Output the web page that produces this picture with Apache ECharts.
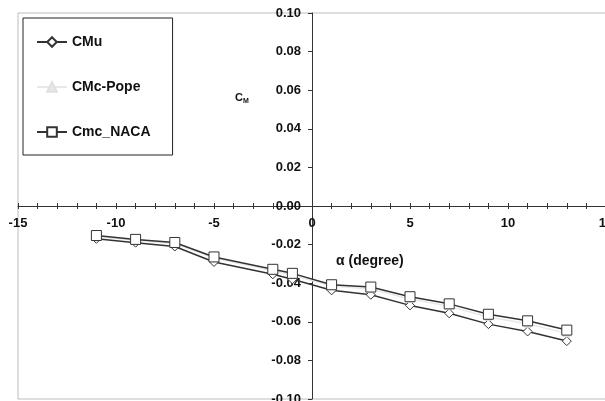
<!DOCTYPE html>
<html>
<head>
<meta charset="utf-8">
<script src="https://cdn.jsdelivr.net/npm/echarts@6/dist/echarts.min.js"></script>
<style>
  html, body { margin: 0; padding: 0; background: #fff; }
  #cm { width: 605px; height: 401px; }
</style>
</head>
<body>
<div id="cm"></div>
<script>
// angle of attack (degree)
var alpha = [-11, -9, -7, -5, -2, -1, 1, 3, 5, 7, 9, 11, 13];
var cmU    = [-0.0170, -0.0190, -0.0210, -0.0290, -0.0354, -0.0380, -0.0437, -0.0460, -0.0515, -0.0556, -0.0612, -0.0650, -0.0700];
var cmPope = [-0.0158, -0.0178, -0.0195, -0.0270, -0.0335, -0.0358, -0.0415, -0.0430, -0.0482, -0.0520, -0.0575, -0.0610, -0.0660];
var cmNaca = [-0.0153, -0.0173, -0.0189, -0.0264, -0.0328, -0.0349, -0.0408, -0.0420, -0.0470, -0.0507, -0.0561, -0.0595, -0.0643];
var names = ['CMu', 'CMc-Pope', 'Cmc_NACA'];

function pairs(ys) {
    return alpha.map(function (a, i) { return [a, ys[i]]; });
}

var chart = echarts.init(document.getElementById('cm'));
var font = 'Arial, "Liberation Sans", sans-serif';
var box = { left: 18, top: 13, width: 588, height: 386, outerBoundsMode: 'none' };
// axes cross at (0, 0): middle of the plot box
var xShift = -box.width / 2;
var yShift = -box.height / 2;

var option = {
    animation: false,
    grid: [
        Object.assign({ show: true, borderColor: '#bdbdbd', borderWidth: 1 }, box),
        // second grid on top of the first only for the inner half of the x ticks
        Object.assign({ show: false }, box)
    ],
    legend: {
        orient: 'vertical',
        left: 23, top: 18,
        padding: [17, 22, 16, 13],
        itemGap: 31,
        itemWidth: 30, itemHeight: 12,
        borderColor: '#222', borderWidth: 1,
        data: names,
        textStyle: { fontFamily: font, fontWeight: 'bold', fontSize: 14, color: '#111' }
    },
    xAxis: [
        {
            type: 'value', min: -15, max: 15, interval: 1, gridIndex: 0,
            position: 'bottom', offset: yShift,
            splitLine: { show: false },
            axisLine: { onZero: false, lineStyle: { color: '#333', width: 1 } },
            axisTick: { length: 3, lineStyle: { color: '#333' } },
            axisLabel: {
                margin: 11, fontFamily: font, fontWeight: 'bold', fontSize: 13, color: '#111',
                formatter: function (v) { return v % 5 === 0 ? String(v) : ''; }
            }
        },
        {
            type: 'value', min: -15, max: 15, interval: 1, gridIndex: 1,
            position: 'bottom', offset: yShift,
            splitLine: { show: false },
            axisLine: { onZero: false, show: false },
            axisTick: { inside: true, length: 3, lineStyle: { color: '#333' } },
            axisLabel: { show: false }
        }
    ],
    yAxis: [
        {
            type: 'value', min: -0.1, max: 0.1, interval: 0.02, gridIndex: 0,
            position: 'left', offset: xShift,
            splitLine: { show: false },
            axisLine: { onZero: false, lineStyle: { color: '#333', width: 1 } },
            axisTick: { length: 4, lineStyle: { color: '#333' } },
            axisLabel: {
                margin: 11, fontFamily: font, fontWeight: 'bold', fontSize: 13, color: '#111',
                formatter: function (v) { return v.toFixed(2); }
            }
        },
        {
            type: 'value', min: -0.1, max: 0.1, interval: 0.02, gridIndex: 1,
            show: false
        }
    ],
    graphic: [
        {
            type: 'text', left: 336, top: 254,
            style: { text: 'α (degree)', font: 'bold 14px ' + font, fill: '#111' }
        },
        {
            type: 'text', left: 235, top: 92,
            style: {
                text: '{c|C}{m|M}', fill: '#111',
                rich: {
                    c: { font: 'bold 11px ' + font },
                    m: { font: 'bold 7px ' + font, padding: [8, 0, 0, 0] }
                }
            }
        }
    ],
    series: [
        {
            name: names[0], type: 'line', data: pairs(cmU),
            symbol: 'diamond', symbolSize: 9,
            lineStyle: { color: '#333', width: 1.5 },
            itemStyle: { color: '#fff', borderColor: '#333', borderWidth: 1 }
        },
        {
            name: names[1], type: 'line', data: pairs(cmPope),
            symbol: 'triangle', symbolSize: 7,
            lineStyle: { color: '#e8e8e8', width: 1.5 },
            itemStyle: { color: '#e8e8e8', borderColor: '#e0e0e0', borderWidth: 1 }
        },
        {
            name: names[2], type: 'line', data: pairs(cmNaca),
            symbol: 'rect', symbolSize: 10,
            lineStyle: { color: '#333', width: 1.5 },
            itemStyle: { color: '#fff', borderColor: '#333', borderWidth: 1 }
        }
    ]
};

chart.setOption(option);
</script>
</body>
</html>
